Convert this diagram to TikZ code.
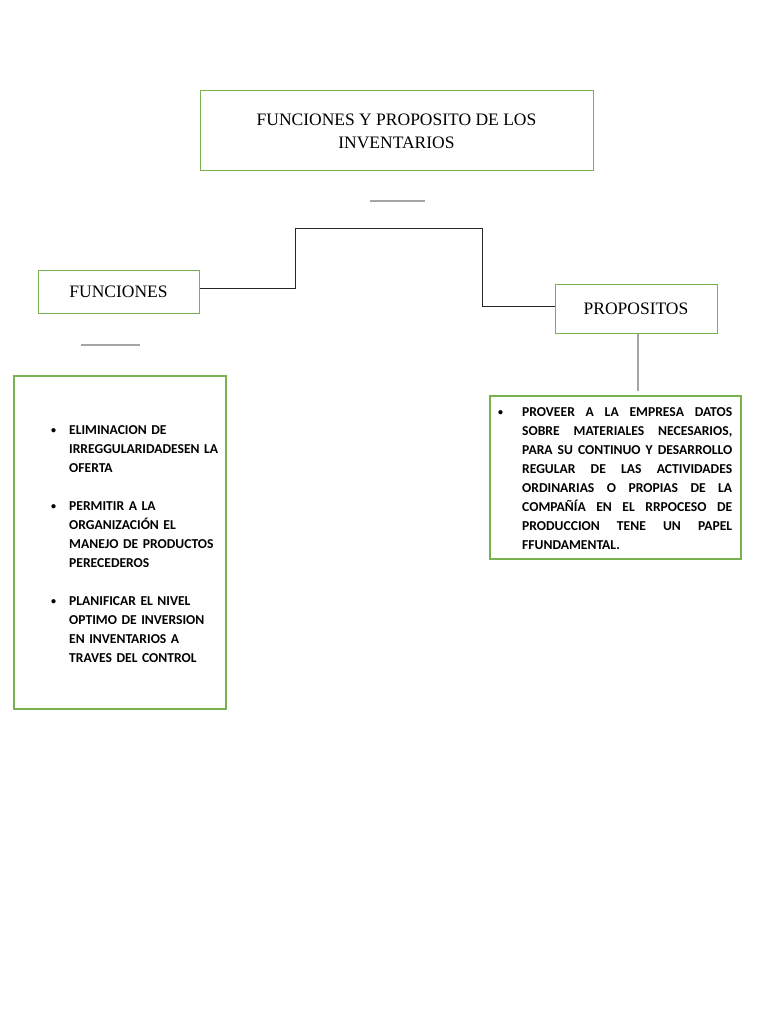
\documentclass[tikz,border=0pt]{standalone}
\usepackage{fontspec}
\setmainfont{Liberation Serif}
\newfontfamily\bodyfont{Carlito}
\usepackage{enumitem}
\usetikzlibrary{positioning}
\definecolor{boxgreen}{RGB}{120,178,80}
\definecolor{ruleGray}{RGB}{165,165,165}
\newcommand{\smallbul}{\raisebox{1pt}{\fontsize{10}{10}\selectfont\textbullet}}

\begin{document}
\begin{tikzpicture}[
        x=1pt, y=-1pt,
        titlebox/.style={draw=boxgreen, line width=1pt, inner sep=0pt,
            font=\fontsize{17.5}{23}\selectfont, align=center},
        listbox/.style={draw=boxgreen, line width=1.2pt, inner sep=0pt},
        listtext/.style={font=\bodyfont\bfseries\fontsize{13.6}{19}\selectfont,
            inner sep=0pt, anchor=north west},
        shortrule/.style={ruleGray, line width=1.5pt},
        link/.style={black!85, line width=0.9pt},
    ]
        \useasboundingbox (0,0) rectangle (768,1024);

        % Title and headings
        \node[titlebox, minimum width=393pt, minimum height=80pt] (title) at (396.5,131)
            {FUNCIONES Y PROPOSITO DE LOS\\INVENTARIOS};
        \node[titlebox, minimum width=161pt, minimum height=43pt] (fun) at (118.5,291.5) {FUNCIONES};
        \node[titlebox, minimum width=162pt, minimum height=49pt] (prop) at (636,308.5) {PROPOSITOS};

        % Short rules
        \draw[shortrule] (370,201) -- (425,201);
        \draw[shortrule] (81,345) -- (140,345);

        % Connector
        \coordinate (k1) at (295,228);
        \coordinate (k2) at (482,228);
        \draw[link] ([yshift=3.5pt]fun.east) -| (k1) -- (k2) |- ([yshift=2.5pt]prop.west);

        % Content boxes
        \node[listbox, minimum width=212pt, minimum height=333pt] (funbox) at (120,542.5) {};
        \node[listbox, minimum width=251pt, minimum height=163pt] (propbox) at (615.5,477.5) {};
        \coordinate (pbot) at ([xshift=2pt]prop.south);
        \draw[shortrule, line width=1.2pt] (pbot) -- ([yshift=4pt]propbox.north -| pbot);

        % Lists
        \node[listtext, text width=172pt, align=left] (funitems) at (50,415) {%
            \begin{itemize}[label=\smallbul, leftmargin=19pt, labelsep=13pt,
                itemsep=19pt, topsep=0pt, parsep=0pt, partopsep=0pt]
            \item ELIMINACION DE\\IRREGGULARIDADESEN LA\\OFERTA
            \item PERMITIR A LA\\ORGANIZACIÓN EL\\MANEJO DE PRODUCTOS\\PERECEDEROS
            \item PLANIFICAR EL NIVEL\\OPTIMO DE INVERSION\\EN INVENTARIOS A\\TRAVES DEL CONTROL
            \end{itemize}};
        \node[listtext, text width=235pt, align=justify] (propitems) at (497,397) {%
            \begin{itemize}[label=\smallbul, leftmargin=25pt, labelsep=19pt,
                topsep=0pt, parsep=0pt, partopsep=0pt]
            \item PROVEER A LA EMPRESA DATOS\linebreak SOBRE MATERIALES NECESARIOS,\linebreak
                PARA SU CONTINUO Y DESARROLLO\linebreak REGULAR DE LAS ACTIVIDADES\linebreak
                ORDINARIAS O PROPIAS DE LA\linebreak COMPAÑÍA EN EL RRPOCESO DE\linebreak
                PRODUCCION TENE UN PAPEL\linebreak FFUNDAMENTAL.
            \end{itemize}};
    \end{tikzpicture}
\end{document}
